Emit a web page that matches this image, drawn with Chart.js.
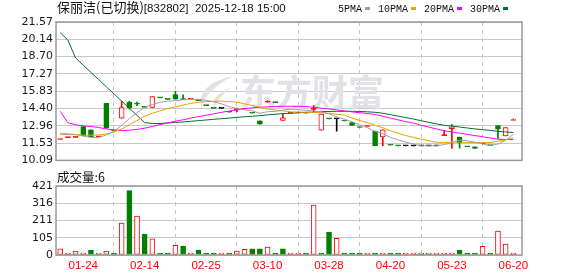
<!DOCTYPE html>
<html>
<head>
<meta charset="utf-8">
<script src="https://cdn.jsdelivr.net/npm/chart.js@4.4.1/dist/chart.umd.min.js"></script>
<style>
    html, body { margin: 0; padding: 0; background: #fff; }
    #wrap { position: relative; width: 578px; height: 276px; overflow: hidden; }
    canvas { position: absolute; left: 0; }
    #kline { top: 0; }
    #vol { top: 170px; }
</style>
</head>
<body>
<div id="wrap">
    <canvas id="kline" width="578" height="170"></canvas>
    <canvas id="vol" width="578" height="106"></canvas>
</div>
<script>
// header + axes
const TITLE_NAME = '保丽洁(已切换)';
const TITLE_INFO = '[832802]  2025-12-18 15:00';
const VOL_TITLE = '成交量:';
const tickIdx = [3, 11, 19, 27, 35, 43, 51, 59];
const tickDates = ['01-24', '02-14', '02-25', '03-10', '03-28', '04-20', '05-23', '06-20'];
const priceTicks = ['10.09', '11.53', '12.96', '14.40', '15.83', '17.27', '18.70', '20.14', '21.57'];
const volTicks = ['0', '105', '211', '316', '421'];
const maLabels = ['5PMA', '10PMA', '20PMA', '30PMA'];

// daily bars
const prevClose = 11.70;
const opens = [11.82, 11.98, 12.00, 12.90, 12.63, 12.05, 14.83, 12.55, 13.60, 14.91,
    14.85, 14.58, 14.48, 15.28, 15.15, 15.55, 15.17, 15.18, 15.05, 14.64,
    14.40, 14.40, 14.10, 14.30, 14.35, 14.00, 13.38, 14.91, 14.88, 13.41,
    14.00, 14.02, 14.00, 14.32, 12.60, 13.54, 13.54, 13.36, 13.22, 12.82,
    12.90, 12.52, 12.04, 11.35, 11.30, 11.30, 11.30, 11.30, 11.30, 11.30,
    12.15, 12.72, 12.02, 11.22, 11.21, 11.47, 11.32, 12.98, 12.12, 13.40];
const highs = [11.82, 11.98, 12.00, 12.92, 12.63, 12.05, 14.83, 12.55, 14.99, 14.99,
    14.92, 14.58, 15.39, 15.28, 15.15, 15.81, 15.53, 15.18, 15.05, 14.64,
    14.40, 14.40, 14.10, 14.43, 14.35, 14.00, 13.38, 15.04, 14.88, 14.00,
    14.00, 14.02, 14.00, 14.64, 13.94, 13.54, 13.54, 13.36, 13.22, 12.82,
    12.90, 12.52, 12.63, 11.35, 11.30, 11.30, 11.30, 11.30, 11.30, 11.30,
    12.58, 13.06, 12.02, 11.22, 11.21, 11.47, 11.32, 12.98, 12.82, 13.54];
const lows = [11.82, 11.98, 12.00, 12.15, 12.04, 12.05, 12.76, 12.55, 13.60, 14.37,
    14.62, 14.48, 14.48, 15.28, 15.15, 15.17, 15.13, 15.18, 15.05, 14.64,
    14.40, 14.40, 14.10, 14.14, 14.35, 14.00, 13.10, 14.91, 14.88, 13.41,
    14.00, 14.02, 14.00, 14.10, 12.60, 13.54, 12.52, 13.36, 13.00, 12.82,
    12.90, 11.32, 11.32, 11.35, 11.30, 11.30, 11.30, 11.30, 11.30, 11.30,
    12.15, 11.08, 11.10, 11.22, 11.08, 11.47, 11.32, 11.91, 12.12, 13.40];
const closes = [11.82, 11.98, 12.00, 12.15, 12.04, 12.05, 12.76, 12.55, 14.48, 14.45,
    14.75, 14.48, 15.39, 15.28, 15.15, 15.17, 15.13, 15.18, 15.05, 14.64,
    14.40, 14.40, 14.10, 14.30, 14.35, 14.00, 13.10, 14.91, 14.88, 13.62,
    14.00, 14.02, 14.00, 14.32, 13.94, 13.54, 13.54, 13.36, 13.00, 12.82,
    12.90, 11.32, 12.63, 11.35, 11.30, 11.30, 11.30, 11.30, 11.30, 11.30,
    12.15, 12.87, 11.55, 11.22, 11.08, 11.47, 11.32, 12.69, 12.82, 13.46];
const volumes = [37, 12, 24, 8, 28, 12, 24, 8, 195, 393,
    238, 128, 98, 6, 6, 59, 55, 6, 30, 12,
    6, 6, 6, 24, 35, 37, 37, 49, 5, 37,
    5, 5, 5, 305, 5, 140, 102, 5, 5, 12,
    5, 5, 5, 5, 5, 12, 5, 12, 5, 5,
    5, 5, 30, 5, 12, 53, 2, 146, 67, 6];

// moving averages as drawn (they carry history from before the window)
const ma5 = [12.23, 12.23, 12.23, 12.10, 12.00, 11.98, 12.20, 12.50, 13.00, 13.55,
    14.05, 14.50, 14.72, 14.90, 15.00, 15.05, 15.12, 15.15, 15.15, 15.08,
    14.95, 14.78, 14.55, 14.40, 14.28, 14.20, 14.00, 14.13, 14.16, 14.25,
    14.35, 14.30, 14.25, 14.20, 14.10, 13.95, 13.70, 13.50, 13.30, 13.05,
    12.80, 12.50, 12.30, 12.00, 11.80, 11.60, 11.45, 11.30, 11.30, 11.30,
    11.40, 11.55, 11.78, 11.72, 11.60, 11.45, 11.32, 11.45, 11.75, 12.25];
const ma10 = [12.36, 12.30, 12.24, 12.18, 12.18, 12.20, 12.28, 12.45, 12.70, 13.05,
    13.40, 13.75, 14.00, 14.20, 14.38, 14.52, 14.68, 14.82, 14.92, 14.97,
    15.00, 15.00, 14.98, 14.92, 14.78, 14.64, 14.50, 14.36, 14.26, 14.20,
    14.12, 14.10, 14.08, 14.06, 14.05, 14.00, 13.92, 13.85, 13.60, 13.40,
    13.22, 13.00, 12.80, 12.55, 12.35, 12.15, 12.00, 11.85, 11.72, 11.60,
    11.55, 11.62, 11.60, 11.58, 11.56, 11.56, 11.57, 11.68, 11.80, 11.96];
const ma20 = [14.16, 13.22, 13.04, 12.96, 12.90, 12.82, 12.70, 12.62, 12.56, 12.60,
    12.66, 12.76, 12.90, 13.06, 13.20, 13.34, 13.46, 13.60, 13.72, 13.84,
    13.95, 14.08, 14.18, 14.28, 14.38, 14.45, 14.50, 14.53, 14.56, 14.58,
    14.58, 14.57, 14.56, 14.50, 14.42, 14.36, 14.28, 14.20, 14.12, 14.05,
    13.98, 13.90, 13.75, 13.60, 13.45, 13.30, 13.18, 13.00, 12.85, 12.70,
    12.55, 12.45, 12.35, 12.25, 12.15, 12.05, 11.95, 11.85, 11.82, 11.83];
const ma30 = [20.69, 20.07, 18.58, 17.99, 17.39, 16.80, 16.20, 15.61, 15.01, 14.42,
    13.82, 13.22, 13.15, 13.15, 13.20, 13.24, 13.28, 13.33, 13.39, 13.44,
    13.50, 13.55, 13.60, 13.66, 13.71, 13.75, 13.80, 13.87, 13.92, 13.97,
    14.00, 14.04, 14.08, 14.10, 14.13, 14.15, 14.16, 14.16, 14.16, 14.15,
    14.12, 14.08, 14.00, 13.88, 13.76, 13.64, 13.52, 13.38, 13.25, 13.12,
    13.00, 12.93, 12.86, 12.78, 12.70, 12.64, 12.58, 12.50, 12.45, 12.40];

const UP = '#ff0000', DOWN = '#008000', FLAT = '#000000';
const MA_COLORS = ['#a0a0a0', '#f0a000', '#ff00ff', '#007030'];
const idx = closes.map((_, i) => i);
const X_MIN = -0.55, X_MAX = 60.13;

function prevOf(i) { return i ? closes[i - 1] : prevClose; }
function candleColor(i) {
    if (closes[i] > opens[i]) return UP;
    if (closes[i] < opens[i]) return DOWN;
    const pc = prevOf(i);
    return closes[i] > pc ? UP : closes[i] < pc ? DOWN : FLAT;
}
function hollow(i) { return closes[i] > opens[i]; }
function volUp(i) { return closes[i] >= prevOf(i); }

function xScale(showLabels) {
    return {
        type: 'linear', min: X_MIN, max: X_MAX, offset: false,
        afterBuildTicks: s => { s.ticks = tickIdx.map(v => ({ value: v })); },
        afterFit: s => { s.height = showLabels ? 21 : 0; },
        ticks: {
            display: showLabels, autoSkip: false, maxRotation: 0, padding: 4,
            color: '#ff0000', font: { family: '"Liberation Sans", Arial', size: 11.5 },
            callback: (v, k) => tickDates[k]
        },
        grid: { color: '#c4c4c4', drawTicks: false },
        border: { display: false, dash: [4, 4] }
    };
}

const frame = {
    id: 'frame',
    afterDatasetsDraw(chart) {
        const { ctx, chartArea: a } = chart;
        ctx.save();
        ctx.strokeStyle = '#999';
        ctx.lineWidth = 1.5;
        ctx.strokeRect(a.left, a.top, a.right - a.left, a.bottom - a.top);
        ctx.restore();
    }
};

// faint site logo behind the candles
const watermark = {
    id: 'watermark',
    beforeDatasetsDraw(chart) {
        const { ctx } = chart;
        ctx.save();
        ctx.fillStyle = '#e2e2e6';
        ctx.beginPath();
        ctx.moveTo(233, 76);
        ctx.quadraticCurveTo(196, 84, 201, 108);
        ctx.quadraticCurveTo(206, 90, 233, 76);
        ctx.fill();
        ctx.beginPath();
        ctx.moveTo(230, 88);
        ctx.quadraticCurveTo(210, 96, 214, 108);
        ctx.quadraticCurveTo(218, 98, 230, 88);
        ctx.fill();
        ctx.font = 'bold 36px "Noto Sans CJK SC"';
        ctx.textBaseline = 'middle';
        ctx.fillText('东方财富', 240, 92);
        ctx.restore();
    }
};

const header = {
    id: 'header',
    afterDraw(chart) {
        const { ctx } = chart;
        ctx.save();
        ctx.fillStyle = '#111';
        ctx.textBaseline = 'alphabetic';
        ctx.font = '13px "Noto Sans CJK SC"';
        ctx.fillText(TITLE_NAME, 57, 12);
        const x0 = 57 + ctx.measureText(TITLE_NAME).width;
        ctx.font = '11.5px "Liberation Sans"';
        ctx.fillText(TITLE_INFO, x0, 12);
        ctx.font = '10px "Liberation Mono"';
        let x = 338;
        maLabels.forEach((lab, k) => {
            ctx.fillStyle = '#111';
            ctx.fillText(lab, x, 12);
            x += ctx.measureText(lab).width + 3;
            ctx.fillStyle = MA_COLORS[k];
            ctx.fillRect(x, 7, 5, 3);
            x += 5 + 8;
        });
        ctx.restore();
    }
};

const volHeader = {
    id: 'volHeader',
    afterDraw(chart) {
        const { ctx } = chart;
        ctx.save();
        ctx.fillStyle = '#111';
        ctx.font = '12.5px "Noto Sans CJK SC"';
        ctx.fillText(VOL_TITLE + volumes[volumes.length - 1], 57, 12);
        ctx.restore();
    }
};

const maSets = [ma5, ma10, ma20, ma30].map((arr, k) => ({
    type: 'line',
    label: maLabels[k],
    order: 0,
    data: idx.map(i => ({ x: i, y: arr[i] })),
    borderColor: MA_COLORS[k],
    borderWidth: 1,
    pointRadius: 0,
    tension: 0
}));

const yMin = Number(priceTicks[0]), yMax = Number(priceTicks[priceTicks.length - 1]);

new Chart(document.getElementById('kline'), {
    type: 'bar',
    data: {
        datasets: [
            ...maSets,
            {
                label: 'body', order: 1,
                data: idx.map(i => ({ x: i, y: [opens[i], closes[i]] })),
                barThickness: 5, grouped: false, minBarLength: 1,
                borderWidth: 1, borderSkipped: false,
                backgroundColor: c => hollow(c.dataIndex) ? '#ffffff' : candleColor(c.dataIndex),
                borderColor: c => candleColor(c.dataIndex)
            },
            {
                label: 'wick', order: 2,
                data: idx.map(i => ({ x: i, y: [lows[i], highs[i]] })),
                barThickness: 1, grouped: false, borderWidth: 0,
                backgroundColor: c => candleColor(c.dataIndex)
            }
        ]
    },
    options: {
        responsive: false, animation: false, events: [],
        layout: { padding: { left: 0, top: 22, right: 56, bottom: 5 } },
        plugins: { legend: { display: false }, tooltip: { enabled: false } },
        scales: {
            x: xScale(false),
            y: {
                type: 'linear', min: yMin, max: yMax,
                afterBuildTicks: s => {
                    s.ticks = priceTicks.map((t, k) => ({ value: yMin + k * (yMax - yMin) / (priceTicks.length - 1) }));
                },
                afterFit: s => { s.width = 56; },
                ticks: {
                    padding: 3, color: '#1a1a1a',
                    font: { family: '"DejaVu Sans"', size: 11 },
                    callback: (v, k) => priceTicks[k]
                },
                grid: { color: '#c8c8c8', drawTicks: false },
                border: { display: false }
            }
        }
    },
    plugins: [watermark, frame, header]
});

const vMax = Number(volTicks[volTicks.length - 1]);

new Chart(document.getElementById('vol'), {
    type: 'bar',
    data: {
        datasets: [{
            label: 'volume',
            data: idx.map(i => ({ x: i, y: volumes[i] })),
            barThickness: 5, grouped: false, minBarLength: 2,
            borderWidth: 1, borderSkipped: false,
            backgroundColor: c => volUp(c.dataIndex) ? '#ffffff' : DOWN,
            borderColor: c => volUp(c.dataIndex) ? UP : DOWN
        }]
    },
    options: {
        responsive: false, animation: false, events: [],
        layout: { padding: { left: 0, top: 16, right: 56, bottom: 0 } },
        plugins: { legend: { display: false }, tooltip: { enabled: false } },
        scales: {
            x: xScale(true),
            y: {
                type: 'linear', min: 0, max: vMax,
                afterBuildTicks: s => {
                    s.ticks = volTicks.map((t, k) => ({ value: k * vMax / (volTicks.length - 1) }));
                },
                afterFit: s => { s.width = 56; },
                ticks: {
                    padding: 3, color: '#1a1a1a',
                    font: { family: '"DejaVu Sans"', size: 11 },
                    callback: (v, k) => volTicks[k]
                },
                grid: { color: '#c8c8c8', drawTicks: false },
                border: { display: false }
            }
        }
    },
    plugins: [frame, volHeader]
});
</script>
</body>
</html>
